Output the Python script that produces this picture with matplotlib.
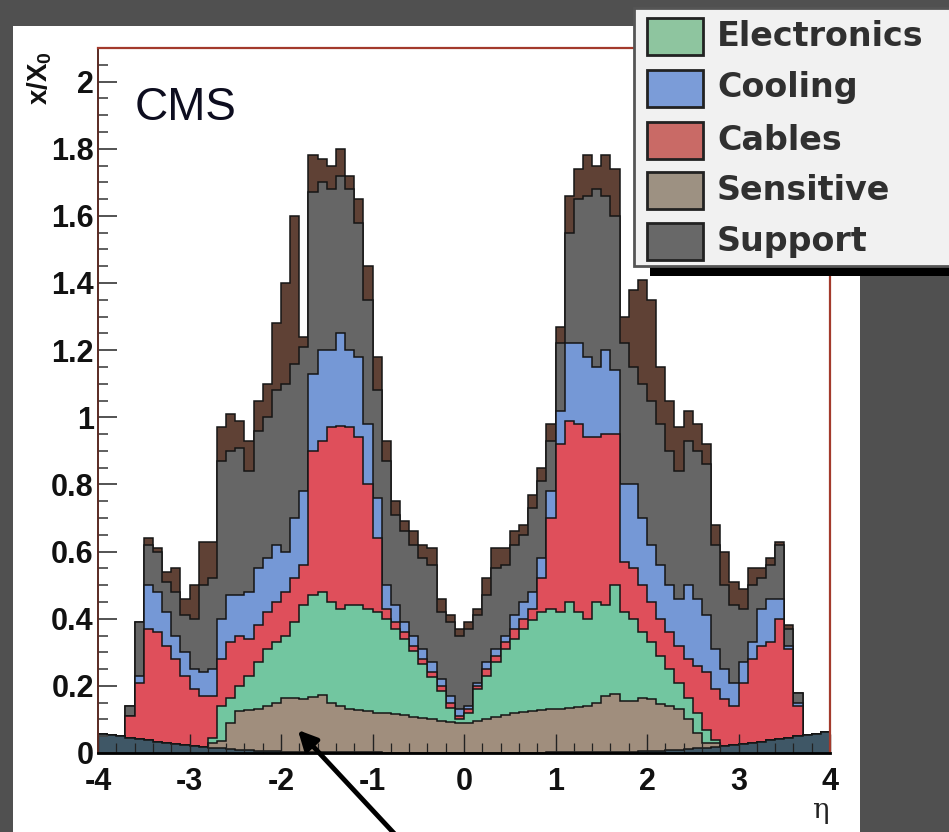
import numpy as np
import matplotlib
matplotlib.use('Agg')
import matplotlib.pyplot as plt
from matplotlib.patches import Rectangle
from matplotlib.ticker import MultipleLocator, FuncFormatter

plt.rcParams['axes.unicode_minus'] = False
plt.rcParams['mathtext.fontset'] = 'custom'
plt.rcParams['mathtext.rm'] = 'Liberation Sans'
plt.rcParams['mathtext.bf'] = 'Liberation Sans:bold'

# eta bins of 0.1 from -4 to 4, values are the stacked (cumulative) tops x/X0
eta_edges = np.linspace(-4, 4, 81)

beam_pipe = [0.058, 0.054, 0.050, 0.046, 0.042, 0.038, 0.034, 0.031, 0.028, 0.025,
             0.022, 0.019, 0.016, 0.014, 0.012, 0.010, 0.008, 0.007, 0.006, 0.005,
             0.004, 0.004, 0.003, 0.003, 0.003, 0.002, 0.002, 0.002, 0.002, 0.002,
             0.002, 0.001, 0.001, 0.001, 0.001, 0.001, 0.001, 0.001, 0.001, 0.001,
             0.001, 0.001, 0.001, 0.001, 0.001, 0.001, 0.001, 0.001, 0.001, 0.002,
             0.002, 0.002, 0.002, 0.002, 0.003, 0.003, 0.003, 0.004, 0.004, 0.005,
             0.006, 0.007, 0.008, 0.010, 0.012, 0.014, 0.016, 0.019, 0.022, 0.025,
             0.028, 0.031, 0.034, 0.038, 0.042, 0.046, 0.050, 0.054, 0.058, 0.062]

top_sensitive = [0, 0, 0, 0, 0, 0, 0, 0, 0, 0,
                 0, 0, 0.030, 0.035, 0.090, 0.125, 0.128, 0.132, 0.140, 0.150,
                 0.163, 0.165, 0.160, 0.168, 0.172, 0.150, 0.140, 0.130, 0.128, 0.125,
                 0.120, 0.118, 0.115, 0.112, 0.108, 0.104, 0.100, 0.095, 0.092, 0.090,
                 0.090, 0.094, 0.100, 0.108, 0.114, 0.118, 0.122, 0.125, 0.128, 0.130,
                 0.132, 0.134, 0.136, 0.140, 0.150, 0.170, 0.176, 0.156, 0.155, 0.165,
                 0.160, 0.146, 0.140, 0.130, 0.100, 0.060, 0.030, 0.030, 0, 0,
                 0, 0, 0, 0, 0, 0, 0, 0, 0, 0]

top_electronics = [0, 0, 0, 0, 0, 0, 0, 0, 0, 0,
                   0, 0, 0.045, 0.140, 0.165, 0.200, 0.230, 0.270, 0.310, 0.330,
                   0.350, 0.390, 0.440, 0.470, 0.480, 0.450, 0.430, 0.440, 0.440, 0.430,
                   0.420, 0.400, 0.370, 0.340, 0.305, 0.265, 0.225, 0.185, 0.135, 0.100,
                   0.120, 0.190, 0.230, 0.270, 0.310, 0.340, 0.370, 0.395, 0.420, 0.430,
                   0.420, 0.450, 0.420, 0.400, 0.450, 0.440, 0.500, 0.420, 0.400, 0.360,
                   0.330, 0.290, 0.250, 0.210, 0.165, 0.120, 0.070, 0.040, 0, 0,
                   0, 0, 0, 0, 0, 0, 0, 0, 0, 0]

top_cables = [0, 0, 0, 0.110, 0.210, 0.370, 0.360, 0.320, 0.280, 0.230,
              0.190, 0.170, 0.170, 0.280, 0.330, 0.350, 0.340, 0.380, 0.420, 0.450,
              0.480, 0.520, 0.560, 0.900, 0.930, 0.970, 0.975, 0.970, 0.940, 0.800,
              0.640, 0.430, 0.390, 0.360, 0.320, 0.280, 0.240, 0.200, 0.150, 0.110,
              0.130, 0.200, 0.250, 0.290, 0.330, 0.370, 0.400, 0.430, 0.520, 0.700,
              0.920, 0.990, 0.980, 0.940, 0.940, 0.950, 0.950, 0.570, 0.550, 0.500,
              0.450, 0.400, 0.360, 0.320, 0.280, 0.260, 0.240, 0.190, 0.160, 0.140,
              0.210, 0.280, 0.320, 0.330, 0.400, 0.310, 0.140, 0, 0, 0]

top_cooling = [0, 0, 0, 0.110, 0.230, 0.500, 0.480, 0.420, 0.350, 0.300,
               0.250, 0.240, 0.250, 0.400, 0.470, 0.470, 0.480, 0.550, 0.580, 0.620,
               0.600, 0.700, 0.780, 1.130, 1.200, 1.200, 1.250, 1.200, 1.180, 0.980,
               0.760, 0.500, 0.440, 0.390, 0.350, 0.310, 0.270, 0.220, 0.170, 0.130,
               0.140, 0.210, 0.270, 0.310, 0.350, 0.410, 0.450, 0.480, 0.580, 0.780,
               1.020, 1.220, 1.220, 1.180, 1.150, 1.200, 1.140, 0.800, 0.800, 0.700,
               0.620, 0.560, 0.500, 0.460, 0.500, 0.460, 0.410, 0.310, 0.250, 0.210,
               0.270, 0.330, 0.430, 0.460, 0.460, 0.320, 0.150, 0, 0, 0]

top_support = [0, 0, 0, 0.140, 0.390, 0.620, 0.600, 0.510, 0.480, 0.410,
               0.400, 0.500, 0.520, 0.870, 0.900, 0.910, 0.840, 0.960, 1.000, 1.080,
               1.100, 1.160, 1.210, 1.670, 1.700, 1.680, 1.720, 1.680, 1.580, 1.350,
               1.080, 0.870, 0.710, 0.660, 0.620, 0.580, 0.560, 0.420, 0.390, 0.350,
               0.370, 0.410, 0.470, 0.550, 0.560, 0.620, 0.650, 0.730, 0.810, 0.930,
               1.220, 1.550, 1.650, 1.660, 1.680, 1.660, 1.600, 1.220, 1.150, 1.100,
               1.050, 0.980, 0.900, 0.840, 0.930, 0.900, 0.860, 0.620, 0.500, 0.440,
               0.430, 0.500, 0.520, 0.560, 0.620, 0.370, 0.180, 0, 0, 0]

top_total = [0, 0, 0, 0.140, 0.390, 0.640, 0.610, 0.540, 0.550, 0.460,
             0.500, 0.630, 0.630, 0.970, 1.010, 0.990, 0.930, 1.050, 1.100, 1.280,
             1.400, 1.600, 1.240, 1.780, 1.770, 1.750, 1.800, 1.720, 1.650, 1.450,
             1.180, 0.930, 0.750, 0.690, 0.660, 0.620, 0.610, 0.460, 0.410, 0.370,
             0.390, 0.430, 0.520, 0.610, 0.610, 0.660, 0.680, 0.770, 0.850, 0.980,
             1.270, 1.660, 1.740, 1.780, 1.750, 1.780, 1.740, 1.300, 1.380, 1.410,
             1.350, 1.150, 1.050, 0.970, 1.020, 0.980, 0.920, 0.680, 0.600, 0.510,
             0.490, 0.550, 0.550, 0.580, 0.630, 0.380, 0.180, 0, 0, 0]

layer_colors = ['#3f5766', '#a08e7d', '#72c6a0', '#df4f5b', '#7598d6', '#666666', '#5f4135']

legend_labels = ['Electronics', 'Cooling', 'Cables', 'Sensitive', 'Support']
legend_colors = ['#8ec59f', '#7b9cd8', '#c96a66', '#9d9182', '#686868']

W, H = 949, 832
fig = plt.figure(figsize=(W / 100, H / 100), dpi=100, facecolor='#505050')
fig.patches.append(Rectangle((13 / W, 0), (860 - 13) / W, (H - 26) / H,
                             transform=fig.transFigure, facecolor='white',
                             edgecolor='none', zorder=-5))

ax = fig.add_axes([98 / W, 79 / H, 732 / W, 705 / H])
ax.set_zorder(1)

# stack: each layer top can't be lower than the one below
levels = [np.array(beam_pipe, dtype=float)]
for arr in [top_sensitive, top_electronics, top_cables, top_cooling, top_support, top_total]:
    levels.append(np.maximum(np.array(arr, dtype=float), levels[-1]))

for lev, col in zip(reversed(levels), reversed(layer_colors)):
    ax.stairs(lev, eta_edges, baseline=0, fill=True, facecolor=col,
              edgecolor='#151515', linewidth=1.1)

ax.set_xlim(-4, 4)
ax.set_ylim(0, 2.1)
ax.xaxis.set_major_locator(MultipleLocator(1))
ax.xaxis.set_minor_locator(MultipleLocator(0.2))
ax.yaxis.set_major_locator(MultipleLocator(0.2))
ax.yaxis.set_minor_locator(MultipleLocator(0.05))
ax.yaxis.set_major_formatter(FuncFormatter(lambda v, p: f'{v:g}'))
ax.xaxis.set_major_formatter(FuncFormatter(lambda v, p: f'{v:g}'))

ax.tick_params(axis='both', which='both', direction='in', top=False, right=False)
ax.tick_params(axis='y', which='major', length=14, width=1.3, color='#444', pad=3)
ax.tick_params(axis='y', which='minor', length=7, width=1.2, color='#444')
ax.tick_params(axis='x', which='major', length=14, width=1.0, color='#222', pad=10)
ax.tick_params(axis='x', which='minor', length=7, width=0.9, color='#222')
for lab in ax.get_xticklabels() + ax.get_yticklabels():
    lab.set_fontfamily('Liberation Sans')
    lab.set_fontweight('bold')
    lab.set_fontsize(22)
    lab.set_color('#111')

ax.spines['top'].set_color('#a33a2c')
ax.spines['right'].set_color('#a33a2c')
ax.spines['top'].set_linewidth(1.6)
ax.spines['right'].set_linewidth(1.6)
ax.spines['left'].set_color('#5a2a22')
ax.spines['left'].set_linewidth(1.4)
ax.spines['bottom'].set_color('black')
ax.spines['bottom'].set_linewidth(2)

fig.text(40 / W, 1 - 78 / H, r'$\mathbf{x/X_0}$', rotation=90, ha='center', va='center',
         fontsize=20, color='#111')
fig.text(135 / W, 1 - 120 / H, 'CMS', fontsize=33, family='Liberation Sans',
         va='baseline', ha='left', color='#0d0d1f')
fig.text(820 / W, 1 - 810 / H, 'η', fontsize=20, family='DejaVu Serif',
         ha='center', va='center', color='#222')

ax.annotate('', xy=(296, H - 728), xycoords='figure pixels',
            xytext=(404, -12), textcoords='figure pixels',
            arrowprops=dict(arrowstyle='-|>', lw=3.5, color='black', mutation_scale=28),
            annotation_clip=False)

# legend box drawn in pixel coords, sits over the panel corner
lax = fig.add_axes([632 / W, 1 - 282 / H, (W - 632) / W, 277 / H])
lax.set_zorder(5)
lax.set_xlim(632, W)
lax.set_ylim(282, 5)
lax.axis('off')
lax.add_patch(Rectangle((650, 262), 320, 14, facecolor='black', edgecolor='none'))
lax.add_patch(Rectangle((634, 8), 330, 258, facecolor='#f1f1f1', edgecolor='#555',
                        linewidth=2))
row_y = [36.5, 88, 140, 190, 241]
for lbl, col, yy in zip(legend_labels, legend_colors, row_y):
    lax.add_patch(Rectangle((647, yy - 18.5), 56, 37, facecolor=col, edgecolor='#222',
                            linewidth=2))
    lax.text(717, yy, lbl, fontsize=24, fontweight='bold', family='DejaVu Sans',
             va='center', ha='left', color='#303030')

fig.savefig('out.png', dpi=100, facecolor=fig.get_facecolor())
